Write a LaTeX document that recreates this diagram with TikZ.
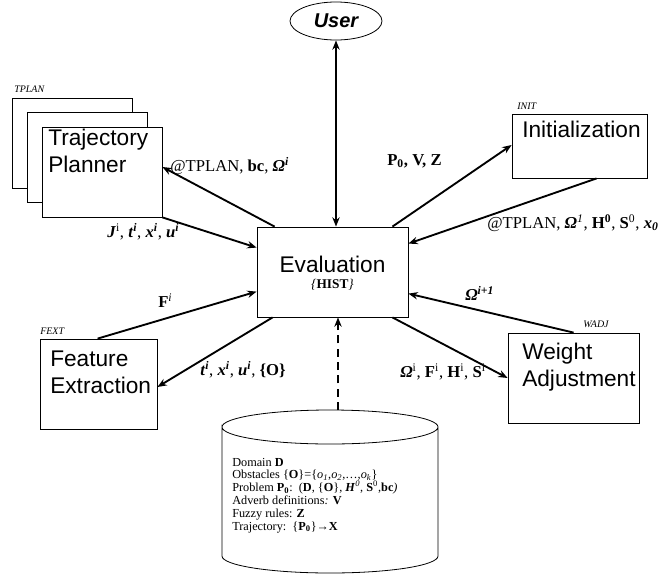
\documentclass[tikz,border=0pt]{standalone}
\usepackage{fontspec}
\setmainfont{Liberation Serif}
\setsansfont{Liberation Sans}
\usetikzlibrary{arrows.meta,positioning,calc,shapes.geometric}
\tikzset{
    box/.style={draw, fill=white, line width=0.6pt, inner sep=0pt},
    box text/.style={font=\sffamily\fontsize{17}{20.25}\selectfont, align=left, inner sep=0pt},
    tag/.style={font=\itshape\fontsize{7.5}{8}\selectfont, inner sep=0pt},
    lbl/.style={font=\fontsize{12.5}{14}\selectfont, inner sep=0pt, anchor=base west},
    db text/.style={font=\fontsize{9.2}{9.6}\selectfont, align=left, inner sep=0pt},
    arr/.style={-{Stealth[length=7pt,width=5.5pt]}, line width=1.4pt},
    darr/.style={{Stealth[length=7pt,width=5.5pt]}-{Stealth[length=7pt,width=5.5pt]}, line width=1.4pt},
}
\newcommand{\bfit}[1]{\textbf{\textit{#1}}}
\begin{document}
\begin{tikzpicture}[x=0.75pt,y=-0.75pt]
    \useasboundingbox (0,0) rectangle (667,575);

    % user and evaluation
    \node[box, ellipse, minimum width=69pt, minimum height=28.5pt,
        font=\sffamily\bfseries\itshape\fontsize{15}{18}\selectfont] (user) at (336,21) {User};
    \node[box, minimum width=113.25pt, minimum height=67.5pt] (eval) at (332.5,272) {};
    \node[box text, anchor=base] (evaltxt) at (332.5,272) {Evaluation};
    \node[font=\fontsize{10}{12}\selectfont, inner sep=0pt, anchor=base] (hist) at (332.5,288)
        {\textit{\{}\textbf{HIST}\textit{\}}};

    % trajectory planner (stacked)
    \node[box, minimum width=90pt, minimum height=67.5pt] (tp3) at (72.5,143) {};
    \node[box, minimum width=90pt, minimum height=67.5pt] (tp2) at (87,157.5) {};
    \node[box, minimum width=90pt, minimum height=67.5pt] (tp) at (102,172) {};
    \node[box text, anchor=base west] (tptxt) at (48,172) {Trajectory\\Planner};
    \node[tag, anchor=base west] (tptag) at (14,92) {TPLAN};

    % initialization
    \node[box, minimum width=101.25pt, minimum height=48pt] (init) at (579.5,146) {};
    \node[box text, anchor=base west] (inittxt) at (522,137) {Initialization};
    \node[tag, anchor=base west] (inittag) at (517,109) {INIT};

    % feature extraction
    \node[box, minimum width=87.75pt, minimum height=67.5pt] (fe) at (98.5,384) {};
    \node[box text, anchor=base west] (fetxt) at (50,393) {Feature\\Extraction};
    \node[tag, anchor=base west] (fetag) at (40,334) {FEXT};

    % weight adjustment
    \node[box, minimum width=98.25pt, minimum height=67.5pt] (wadj) at (573.5,378) {};
    \node[box text, anchor=base west] (wadjtxt) at (522,386) {Weight\\Adjustment};
    \node[tag, anchor=base west] (wadjtag) at (583,327) {WADJ};

    % data base
    \draw[line width=0.6pt] (222,427) arc[start angle=180, end angle=360, x radius=108, y radius=17]
        arc[start angle=0, end angle=180, x radius=108, y radius=17] -- (222,556)
        arc[start angle=180, end angle=0, x radius=108, y radius=17] -- (438,427);
    \coordinate (dbtop) at (338,410);
    \node[db text, anchor=base west] (dbtxt) at (232,530) {Domain \textbf{D}\\
        Obstacles \{\textbf{O}\}=\{\textit{o}\textsubscript{\textit{1}},\textit{o}\textsubscript{\textit{2}},…,\textit{o}\textsubscript{\textit{k}}\}\\
        Problem \textbf{P\textsubscript{0}}:\ \ (\textbf{D}, \{\textbf{O}\}, \bfit{H}\textsuperscript{\textit{0}}, \textbf{S}\textsuperscript{0},\textbf{bc}\textit{)}\\
        Adverb definitions\textit{:} \textbf{V}\\
        Fuzzy rules: \textbf{Z}\\
        Trajectory:\ \ \{\textbf{P\textsubscript{0}}\}\textbf{→X}};

    % connectors
    \draw[darr] (user.south) -- (user.south |- eval.north);
    \draw[arr, dashed, dash pattern=on 6pt off 4pt] (dbtop) -- (dbtop |- eval.south);
    \draw[arr] ($(eval.north west)+(18,0)$) -- ($(tp.east)+(0,-5)$);
    \draw[arr] (tp.south east) -- ($(eval.north west)+(0,21)$);
    \draw[arr] ($(eval.north east)+(-16,0)$) -- ($(init.west)+(0,-1)$);
    \draw[arr] ($(init.south west)+(85,0)$) -- ($(eval.north east)+(0,17)$);
    \draw[arr] ($(fe.north west)+(58,0)$) -- ($(eval.north west)+(0,65)$);
    \draw[arr] ($(eval.south west)+(16,0)$) -- ($(fe.east)+(0,3)$);
    \draw[arr] ($(wadj.north west)+(66,0)$) -- ($(eval.north east)+(0,67)$);
    \draw[arr] ($(eval.south east)+(-16,0)$) -- (wadj.west);

    % labels
    \node[lbl] (l1) at (170,171) {@TPLAN, \textbf{bc}, \bfit{Ω}\textsuperscript{\bfit{i}}};
    \node[lbl] (l2) at (107,237) {\bfit{J}\textsuperscript{i}, \bfit{t}\textsuperscript{\bfit{i}}, \bfit{x}\textsuperscript{\bfit{i}}, \bfit{u}\textsuperscript{\bfit{i}}};
    \node[lbl] (l3) at (387,165) {\textbf{P\textsubscript{0}, V, Z}};
    \node[lbl] (l4) at (487,228) {@TPLAN, \bfit{Ω}\textsuperscript{\textit{1}}, \textbf{H}\textsuperscript{\textbf{0}}, \textbf{S}\textsuperscript{0}, \bfit{x}\textsubscript{\bfit{0}}};
    \node[lbl] (l5) at (158,307) {\textbf{F}\textsuperscript{\textit{i}}};
    \node[lbl] (l6) at (200,375) {\bfit{t}\textsuperscript{\bfit{i}}, \bfit{x}\textsuperscript{\bfit{i}}, \bfit{u}\textsuperscript{\bfit{i}}, \textbf{\{O\}}};
    \node[lbl] (l7) at (465,300) {\bfit{Ω}\textsuperscript{\bfit{i+1}}};
    \node[lbl] (l8) at (400,377) {\bfit{Ω}\textsuperscript{i}, \textbf{F}\textsuperscript{i}, \textbf{H}\textsuperscript{i}, \textbf{S}\textsuperscript{i}};
\end{tikzpicture}
\end{document}
